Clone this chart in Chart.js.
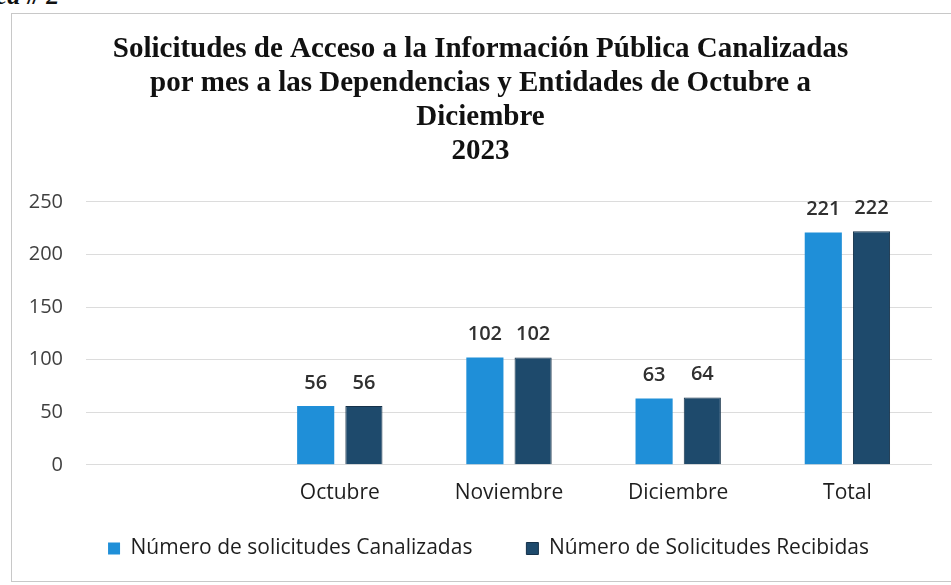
<!DOCTYPE html>
<html>
<head>
<meta charset="utf-8">
<script src="https://cdn.jsdelivr.net/npm/chart.js@4"></script>
<style>
  html, body { margin: 0; padding: 0; background: #ffffff; width: 951px; height: 585px; overflow: hidden; position: relative; }
  #heading { position: absolute; left: -62px; top: -19px; font: italic bold 26px "Liberation Serif", serif; color: #111; white-space: nowrap; }
  #frame { position: absolute; left: 11px; top: 13px; width: 960px; height: 569px; border: 1px solid #c8c8c8; box-sizing: border-box; }
  #c { position: absolute; left: 8px; top: 14px; }
</style>
</head>
<body>
<div id="heading">Gráfica # 2</div>
<div id="frame"></div>
<canvas id="c" width="958" height="566"></canvas>
<script>
const titleLines = [
  "Solicitudes de Acceso a la Información Pública Canalizadas",
  "por mes a las Dependencias y Entidades de Octubre a",
  "Diciembre",
  "2023"
];
const categories = ["", "Octubre", "Noviembre", "Diciembre", "Total"];
const canalizadas = [null, 56, 102, 63, 221];
const recibidas = [null, 56, 102, 64, 222];
const seriesNames = ["Número de solicitudes Canalizadas", "Número de Solicitudes Recibidas"];
const yTicks = [0, 50, 100, 150, 200, 250];

const labelFont = '"Open Sans", "Noto Sans", sans-serif';

const valueLabels = {
  id: 'valueLabels',
  afterDatasetsDraw(chart) {
    const ctx = chart.ctx;
    ctx.save();
    ctx.font = '600 20px ' + labelFont;
    ctx.fillStyle = '#303030';
    ctx.textAlign = 'center';
    ctx.textBaseline = 'middle';
    chart.data.datasets.forEach((ds, di) => {
      const meta = chart.getDatasetMeta(di);
      meta.data.forEach((bar, i) => {
        const v = ds.data[i];
        if (v === null || v === undefined) return;
        ctx.fillText(String(v), bar.x, bar.y - 23);
      });
    });
    ctx.restore();
  }
};

const legendFix = {
  id: 'legendFix',
  beforeUpdate(chart) {
    const lg = chart.legend;
    if (lg && !lg._patched) {
      const orig = lg.fit.bind(lg);
      lg.fit = function () { orig(); this.height = 58; };
      lg._patched = true;
    }
  },
  afterLayout(chart) {
    const lg = chart.legend;
    if (lg) {
      lg.top = 470;
      lg.bottom = chart.height;
      lg.height = lg.bottom - lg.top;
      lg.left += 8;
      lg.right += 8;
    }
  }
};

new Chart(document.getElementById('c'), {
  type: 'bar',
  data: {
    labels: categories,
    datasets: [
      { label: seriesNames[0], data: canalizadas, backgroundColor: '#1f8fd8', borderColor: '#1f8fd8', borderWidth: 0 },
      { label: seriesNames[1], data: recibidas, backgroundColor: '#1e4a6c', borderColor: '#16324a', borderWidth: 1 }
    ]
  },
  options: {
    responsive: false,
    animation: false,
    devicePixelRatio: 1,
    layout: { padding: { left: 21, right: 34, top: 0, bottom: 0 } },
    datasets: { bar: { categoryPercentage: 0.57, barPercentage: 0.77 } },
    plugins: {
      title: {
        display: true,
        text: titleLines,
        color: '#111111',
        font: { family: '"Liberation Serif", "Times New Roman", serif', size: 29, weight: 'bold', lineHeight: 1.18 },
        padding: { top: 18, bottom: 33 }
      },
      legend: {
        position: 'bottom',
        labels: {
          boxWidth: 12, boxHeight: 12, padding: 54,
          color: '#1e1e1e',
          font: { family: labelFont, size: 21 }
        }
      },
      tooltip: { enabled: false }
    },
    scales: {
      x: {
        grid: { display: false, drawTicks: false },
        border: { display: false },
        ticks: { color: '#1e1e1e', padding: 16, font: { family: labelFont, size: 21 }, maxRotation: 0, autoSkip: false }
      },
      y: {
        min: 0, max: 250,
        afterBuildTicks(s) { s.ticks = yTicks.map(v => ({ value: v })); },
        grid: { color: '#dcdcdc', lineWidth: 1, drawTicks: false },
        border: { display: false },
        ticks: { color: '#404040', padding: 23, font: { family: labelFont, size: 20 } },
        afterFit(s) { s.width = 57; }
      }
    }
  },
  plugins: [valueLabels, legendFix]
});
</script>
</body>
</html>
